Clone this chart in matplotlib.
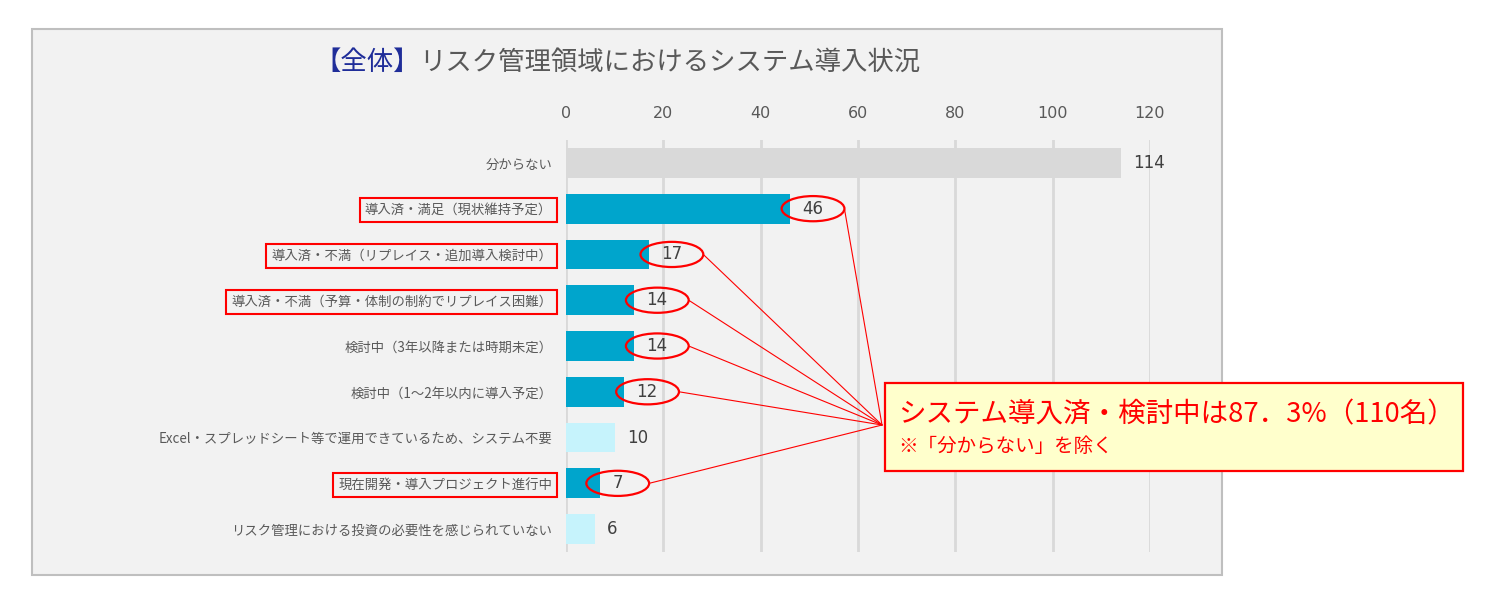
import matplotlib.pyplot as plt
from matplotlib.patches import Rectangle, Ellipse, ConnectionPatch

plt.rcParams['font.family'] = ['Noto Sans CJK JP', 'DejaVu Sans']

# data
categories = [
    '分からない',
    '導入済・満足（現状維持予定）',
    '導入済・不満（リプレイス・追加導入検討中）',
    '導入済・不満（予算・体制の制約でリプレイス困難）',
    '検討中（3年以降または時期未定）',
    '検討中（1～2年以内に導入予定）',
    'Excel・スプレッドシート等で運用できているため、システム不要',
    '現在開発・導入プロジェクト進行中',
    'リスク管理における投資の必要性を感じられていない',
]
values = [114, 46, 17, 14, 14, 12, 10, 7, 6]
groups = ['unknown', 'sys', 'sys', 'sys', 'sys', 'sys', 'none', 'sys', 'none']
boxed_labels = [1, 2, 3, 7]
x_ticks = [0, 20, 40, 60, 80, 100, 120]

colors = {'unknown': '#D9D9D9', 'sys': '#00A5CC', 'none': '#C6F3FC'}

W, H = 1499, 613
fig = plt.figure(figsize=(W / 100, H / 100), dpi=100)
fig.patch.set_facecolor('white')

def fx(px):
    return px / W

def fy(py):
    return 1 - py / H

# gray chart panel
fig.add_artist(Rectangle((fx(32), fy(575)), fx(1222) - fx(32), fy(29) - fy(575),
                         transform=fig.transFigure, facecolor='#F2F2F2',
                         edgecolor='#BFBFBF', linewidth=1.5, zorder=-5))

ax = fig.add_axes([fx(566), fy(552), fx(1150) - fx(566), fy(140) - fy(552)])
ax.set_facecolor('none')

y = list(range(len(categories)))
ax.barh(y, values, height=0.65, color=[colors[g] for g in groups], zorder=2)
ax.set_xlim(0, 120)
ax.set_ylim(len(categories) - 0.5, -0.5)

ax.set_xticks(x_ticks)
ax.set_xticklabels([str(t) for t in x_ticks], family='DejaVu Sans')
ax.xaxis.tick_top()
ax.tick_params(axis='x', length=0, pad=14, labelsize=11.5, labelcolor='#595959')
ax.grid(axis='x', color='#D9D9D9', linewidth=2, zorder=0)
ax.set_axisbelow(True)
for s in ax.spines.values():
    s.set_visible(False)

ax.set_yticks(y)
ax.set_yticklabels(categories)
ax.tick_params(axis='y', length=0, pad=10, labelsize=9.6, labelcolor='#595959')
for i, lab in enumerate(ax.get_yticklabels()):
    if i in boxed_labels:
        lab.set_bbox(dict(facecolor='none', edgecolor='red', linewidth=1.5, pad=3.5))

# value labels, ellipses and leader lines
target = (fx(882), fy(425))
for i, v in enumerate(values):
    ax.text(v + 2.5, i, str(v), va='center', ha='left', fontsize=12,
            color='#404040', family='DejaVu Sans', zorder=4)
    if groups[i] == 'sys':
        cx = v + 2.5 + len(str(v)) * 1.13
        ax.add_patch(Ellipse((cx, i), width=12.9, height=0.55, fill=False,
                             edgecolor='red', linewidth=1.6, zorder=5, clip_on=False))
        fig.add_artist(ConnectionPatch(xyA=(cx + 6.45, i), coordsA=ax.transData,
                                       xyB=target, coordsB=fig.transFigure,
                                       color='red', linewidth=0.8, zorder=6))

# callout box
fig.add_artist(Rectangle((fx(885), fy(471)), fx(1463) - fx(885), fy(383) - fy(471),
                         transform=fig.transFigure, facecolor='#FFFFCC',
                         edgecolor='red', linewidth=1.6, zorder=7))
fig.text(fx(898), fy(415), 'システム導入済・検討中は87．3%（110名）', color='red',
         fontsize=19.8, va='center', ha='left', zorder=8)
fig.text(fx(898), fy(447), '※「分からない」を除く', color='red',
         fontsize=14, va='center', ha='left', zorder=8)

# title
t1 = fig.text(fx(314), fy(62), '【全体】', color='#1F2D99', fontsize=19,
              va='center', ha='left')
ax.annotate('リスク管理領域におけるシステム導入状況', xy=(1, 0.5), xycoords=t1,
            xytext=(0, 0), textcoords='offset points', va='center', ha='left',
            color='#595959', fontsize=19, annotation_clip=False)

fig.savefig('out.png', dpi=100)
